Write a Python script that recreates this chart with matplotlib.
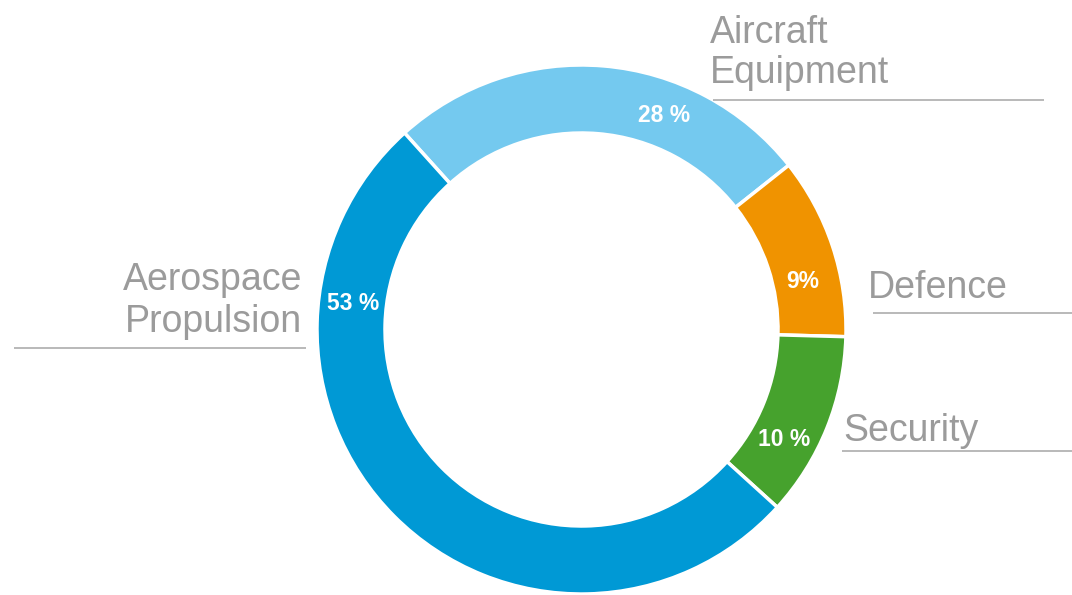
import matplotlib
matplotlib.use("Agg")
import matplotlib.pyplot as plt
import numpy as np

# ---- data ----
categories = ["Aircraft\nEquipment", "Defence", "Security", "Aerospace\nPropulsion"]
shares = [26.0, 11.1, 11.3, 51.6]          # drawn arc shares
pct_labels = ["28 %", "9%", "10 %", "53 %"]  # printed labels
colors = ["#74C9EF", "#F09300", "#46A22D", "#0099D5"]

# ---- layout (pixel space) ----
W, H = 1072, 595
cx, cy = 581.5, 329.5
R_out, ring_w = 264.5, 68

fig = plt.figure(figsize=(W / 100, H / 100), dpi=100)
ax = fig.add_axes([0, 0, 1, 1])

def Y(py):
    return H - py

ax.pie(shares, colors=colors, startangle=132, counterclock=False,
       radius=R_out, center=(cx, Y(cy)),
       wedgeprops=dict(width=ring_w, edgecolor="white", linewidth=2.5))
ax.set_xlim(0, W)
ax.set_ylim(0, H)
ax.set_aspect("equal")
ax.axis("off")

# percentage label positions (pixel centres)
pct_pos = [(664, 116), (803, 282), (784, 440), (353, 303)]
for (px, py), t in zip(pct_pos, pct_labels):
    ax.text(px, Y(py), t, color="white", fontsize=16.5, fontweight="bold",
            family="Liberation Sans", ha="center", va="center")

# category labels: (anchor x, first baseline y, ha, line gap)
lab_pos = [(710, 43, "left", 40), (868, 298, "left", 40),
           (843, 441, "left", 40), (302, 290, "right", 42)]
rules = [(713, 1044, 100), (873, 1072, 313), (842, 1072, 451), (14, 306, 348)]
gray = "#9B9B9B"
for cat, (px, py, ha, gap), (x0, x1, ly) in zip(categories, lab_pos, rules):
    for i, line in enumerate(cat.split("\n")):
        ax.text(px, Y(py + i * gap), line, color=gray, fontsize=27,
                family="Liberation Sans", ha=ha, va="baseline")
    ax.plot([x0, x1], [Y(ly), Y(ly)], color="#A6A6A6", lw=1.1,
            solid_capstyle="butt")

fig.savefig("out.png", dpi=100)
